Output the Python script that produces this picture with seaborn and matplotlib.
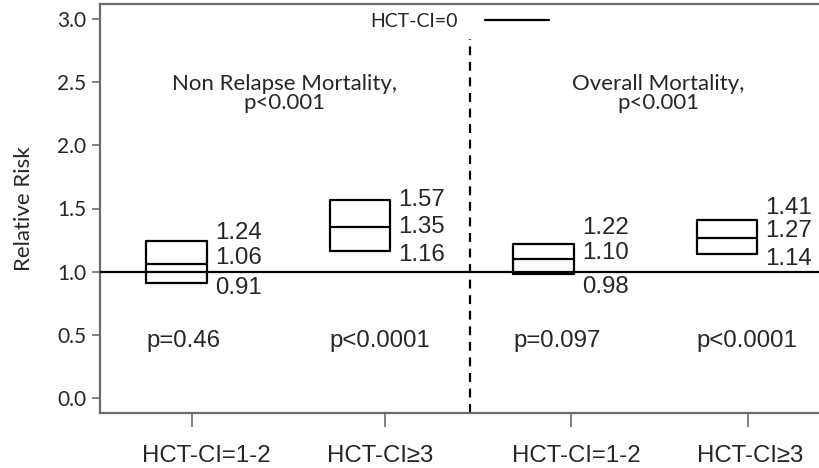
import matplotlib
matplotlib.use("Agg")
import matplotlib.pyplot as plt
import seaborn as sns
import pandas as pd

# ---- data ----
groups = ["NRM 1-2", "NRM >=3", "OM 1-2", "OM >=3"]
tick_labels = ["HCT-CI=1-2", "HCT-CI≥3", "HCT-CI=1-2", "HCT-CI≥3"]
rr_low = [0.91, 1.16, 0.98, 1.14]
rr_mid = [1.06, 1.35, 1.10, 1.27]
rr_high = [1.24, 1.57, 1.22, 1.41]
p_values = ["p=0.46", "p<0.0001", "p=0.097", "p<0.0001"]
panel_titles = ["Non Relapse Mortality,\np<0.001", "Overall Mortality,\np<0.001"]
reference_label = "HCT-CI=0"
reference_value = 1.0

# ---- layout / style (not data) ----
label_offsets_px = [(8, 6, -5), (0, 0, -4), (16, 6, -13), (12, 7, -5)]
tick_pos = [0.084, 1.136, 2.15, 3.114]
ticklabel_pos = [0.16, 1.11, 2.18, 3.125]
title_x = [0.59, 2.624]
box_width = 0.332

sns.set_style("white")
plt.rcParams["font.family"] = ["Liberation Sans", "DejaVu Sans"]
cal = ["Lato", "DejaVu Sans"]
spine_col = "#6b6b6b"
fs_num = 17.3

rows = []
for g, lo, md, hi in zip(groups, rr_low, rr_mid, rr_high):
    for v in (lo, lo, md, hi, hi):
        rows.append({"group": g, "value": v})
df = pd.DataFrame(rows)

fig = plt.figure(figsize=(8.2, 4.68), dpi=100)
ax = fig.add_axes([100 / 820, 55 / 468, 720 / 820, 409 / 468])

sns.boxplot(data=df, x="group", y="value", order=groups, whis=0, showfliers=False,
            showcaps=False, width=box_width, fill=False, color="black", linecolor="black",
            linewidth=1.6, ax=ax)

ref = ax.axhline(reference_value, color="black", lw=1.6, zorder=5, label=reference_label)

ax.set_xlim(-0.417, 3.507)
ax.set_ylim(-0.12, 3.12)
ax.set_yticks([0.0, 0.5, 1.0, 1.5, 2.0, 2.5, 3.0])
ax.set_yticklabels([f"{v:.1f}" for v in ax.get_yticks()], family=cal, fontsize=15)
# tick marks (major, unlabeled) and labels (minor, no marks)
ax.set_xticks(tick_pos)
ax.set_xticklabels([""] * len(tick_pos))
ax.set_xticks(ticklabel_pos, minor=True)
ax.set_xticklabels(tick_labels, minor=True, fontsize=fs_num)
ax.set_xlabel("")
ax.set_ylabel("Relative Risk", family=cal, fontsize=16)
ax.yaxis.set_label_coords((34 - 100) / 720, 0.5)

ax.tick_params(axis="y", length=6, width=1.2, color=spine_col, pad=4, left=True)
ax.tick_params(axis="x", which="major", length=10, width=1.2, color=spine_col, bottom=True)
ax.tick_params(axis="x", which="minor", length=10, width=0, pad=13, bottom=True)
for s in ["left", "bottom", "top"]:
    ax.spines[s].set_color(spine_col)
    ax.spines[s].set_linewidth(1.6)
ax.spines["right"].set_visible(False)

# dashed separator
ax.vlines(1.6, -0.12, 2.84, colors="black", linestyles=(0, (4, 3)), lw=1.6)

# value labels
for i, (lo, md, hi) in enumerate(zip(rr_low, rr_mid, rr_high)):
    xr = i + box_width / 2
    off = label_offsets_px[i]
    for val, dy in zip((hi, md, lo), off):
        ax.annotate(f"{val:.2f}", (xr, val), xytext=(8, dy), textcoords="offset pixels",
                    ha="left", va="center", fontsize=fs_num)
    ax.text(i - box_width / 2, 0.45, p_values[i], ha="left", va="center", fontsize=fs_num)

# panel titles
for tx, tt in zip(title_x, panel_titles):
    ax.text(tx, 2.414, tt, ha="center", va="center", family=cal, fontsize=16,
            linespacing=0.95)

ax.legend(handles=[ref], loc="center", bbox_to_anchor=(0.5, 0.957), frameon=False,
          markerfirst=False, handlelength=3.3, handletextpad=1.4,
          prop={"family": cal, "size": 14})

fig.savefig("out.png", dpi=100)
